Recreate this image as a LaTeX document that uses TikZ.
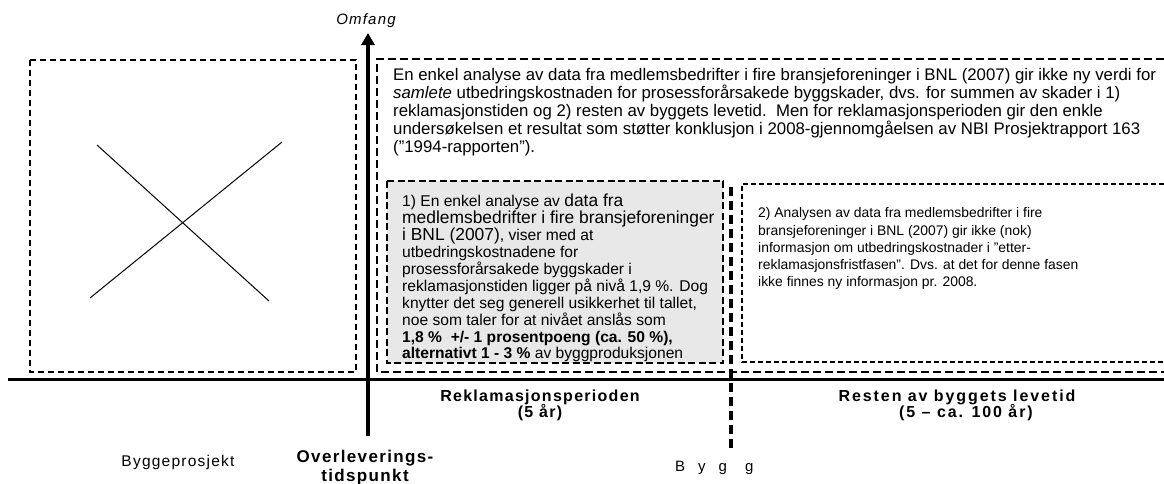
\documentclass[tikz,border=0pt]{standalone}
\usepackage{fontspec}
\setmainfont{Liberation Sans}
\newfontfamily\lsfont[LetterSpace=8]{Liberation Sans}
\newfontfamily\lsfontwide[LetterSpace=12]{Liberation Sans}
\usetikzlibrary{arrows.meta}
\newcommand{\fsz}[2]{\fontsize{#1pt}{#2pt}\selectfont}
\tikzset{
  txt/.style={inner sep=0pt, align=left, anchor=north west},
  lbl/.style={inner sep=0pt, align=center},
  thindash/.style={line width=1.5pt, dash pattern=on 6pt off 4pt},
  bigdash/.style={line width=2.2pt, dash pattern=on 8pt off 4pt},
  greydash/.style={line width=2pt, dash pattern=on 7pt off 3.5pt, fill=black!9},
  smalldash/.style={line width=1.5pt, dash pattern=on 5pt off 3pt},
  thickdash/.style={line width=3.5pt, dash pattern=on 9pt off 5pt},
  axis/.style={line width=3.2pt},
  boldlbl/.style={lbl, font=\lsfont\bfseries\fsz{16}{17}},
  boldlblwide/.style={lbl, font=\lsfontwide\bfseries\fsz{16}{17}},
}
\begin{document}
\begin{tikzpicture}[x=1pt,y=-1pt]
\useasboundingbox (0,0) rectangle (1164,483);
% left placeholder box
\draw[thindash] (30,60) rectangle (356,372);
\coordinate (xa) at (97,145); \coordinate (xb) at (269,301);
\coordinate (xc) at (282,142); \coordinate (xd) at (90,298);
\draw[line width=1pt] (xa) -- (xb);
\draw[line width=1pt] (xc) -- (xd);
% big top-right box
\draw[bigdash] (1164,59) -- (377,59) -- (377,372) -- (1164,372);
% grey box 1
\draw[greydash] (387,181) rectangle (723,363);
% box 2
\draw[smalldash] (1164,184) -- (742,184) -- (742,362) -- (1164,362);
% thick dashed divider
\coordinate (dtop) at (731,187); \coordinate (dbot) at (731,449);
\draw[thickdash] (dtop) -- (dbot);
% axes
\coordinate (hl) at (8,379.5); \coordinate (hr) at (1164,379.5);
\coordinate (vb) at (368,436); \coordinate (vt) at (368,33);
\draw[axis] (hl) -- (hr);
\draw[axis, -{Triangle[width=13pt,length=12pt]}] (vb) -- (vt);
\node[lbl, font=\lsfont\itshape\fsz{15}{17}] (omfang) at (366,21) {Omfang};
% texts
\node[txt, font=\fsz{16.8}{18}] (toptext) at (393,68.5) {%
En enkel analyse av data fra medlemsbedrifter i fire bransjeforeninger i BNL (2007) gir ikke ny verdi for\\
\textit{samlete} utbedringskostnaden for prosessforårsakede byggskader, dvs. for summen av skader i 1)\\
reklamasjonstiden og 2) resten av byggets levetid.\ \ Men for reklamasjonsperioden gir den enkle\\
undersøkelsen et resultat som støtter konklusjon i 2008-gjennomgåelsen av NBI Prosjektrapport 163\\
(”1994-rapporten”).};
\node[txt, font=\fsz{15.6}{16.9}] (box1text) at (402,194) {%
1) En enkel analyse av {\fsz{17.4}{16.9}data fra}\\
{\fsz{17.4}{16.9}medlemsbedrifter i fire bransjeforeninger}\\
{\fsz{17.4}{16.9}i BNL (2007)}, viser med at\\
utbedringskostnadene for\\
prosessforårsakede byggskader i\\
reklamasjonstiden ligger på nivå 1,9 \%. Dog\\
knytter det seg generell usikkerhet til tallet,\\
noe som taler for at nivået anslås som\\
\textbf{1,8 \%\ \ +/- 1 prosentpoeng (ca. 50 \%),}\\
\textbf{alternativt 1 - 3 \%} av byggproduksjonen};
\node[txt, font=\fsz{13.9}{17.3}] (box2text) at (758,207.5) {%
2) Analysen av data fra medlemsbedrifter i fire\\
bransjeforeninger i BNL (2007) gir ikke (nok)\\
informasjon om utbedringskostnader i ”etter-\\
reklamasjonsfristfasen”. Dvs. at det for denne fasen\\
ikke finnes ny informasjon pr. 2008.};
% bottom labels
\node[boldlbl] (rekl) at (540,397) {Reklamasjonsperioden};
\node[boldlbl] (reklyr) at (540,413) {(5 år)};
\node[boldlblwide] (resten) at (957,397) {Resten av byggets levetid};
\node[boldlblwide] (restenyr) at (966,413) {(5 – ca. 100 år)};
\node[lbl, font=\lsfont\fsz{15.5}{17}] (byggepr) at (178,462) {Byggeprosjekt};
\node[lbl, font=\lsfont\bfseries\fsz{17}{19}] (overl) at (365,458) {Overleverings-};
\node[lbl, font=\lsfont\bfseries\fsz{17}{19}] (tids) at (365,477) {tidspunkt};
\node[inner sep=0pt, anchor=base west, font=\fsz{15}{17}] (bygg) at (675,471) {B\hspace{13pt}y\hspace{13pt}g\hspace{18pt}g};
\end{tikzpicture}
\end{document}
